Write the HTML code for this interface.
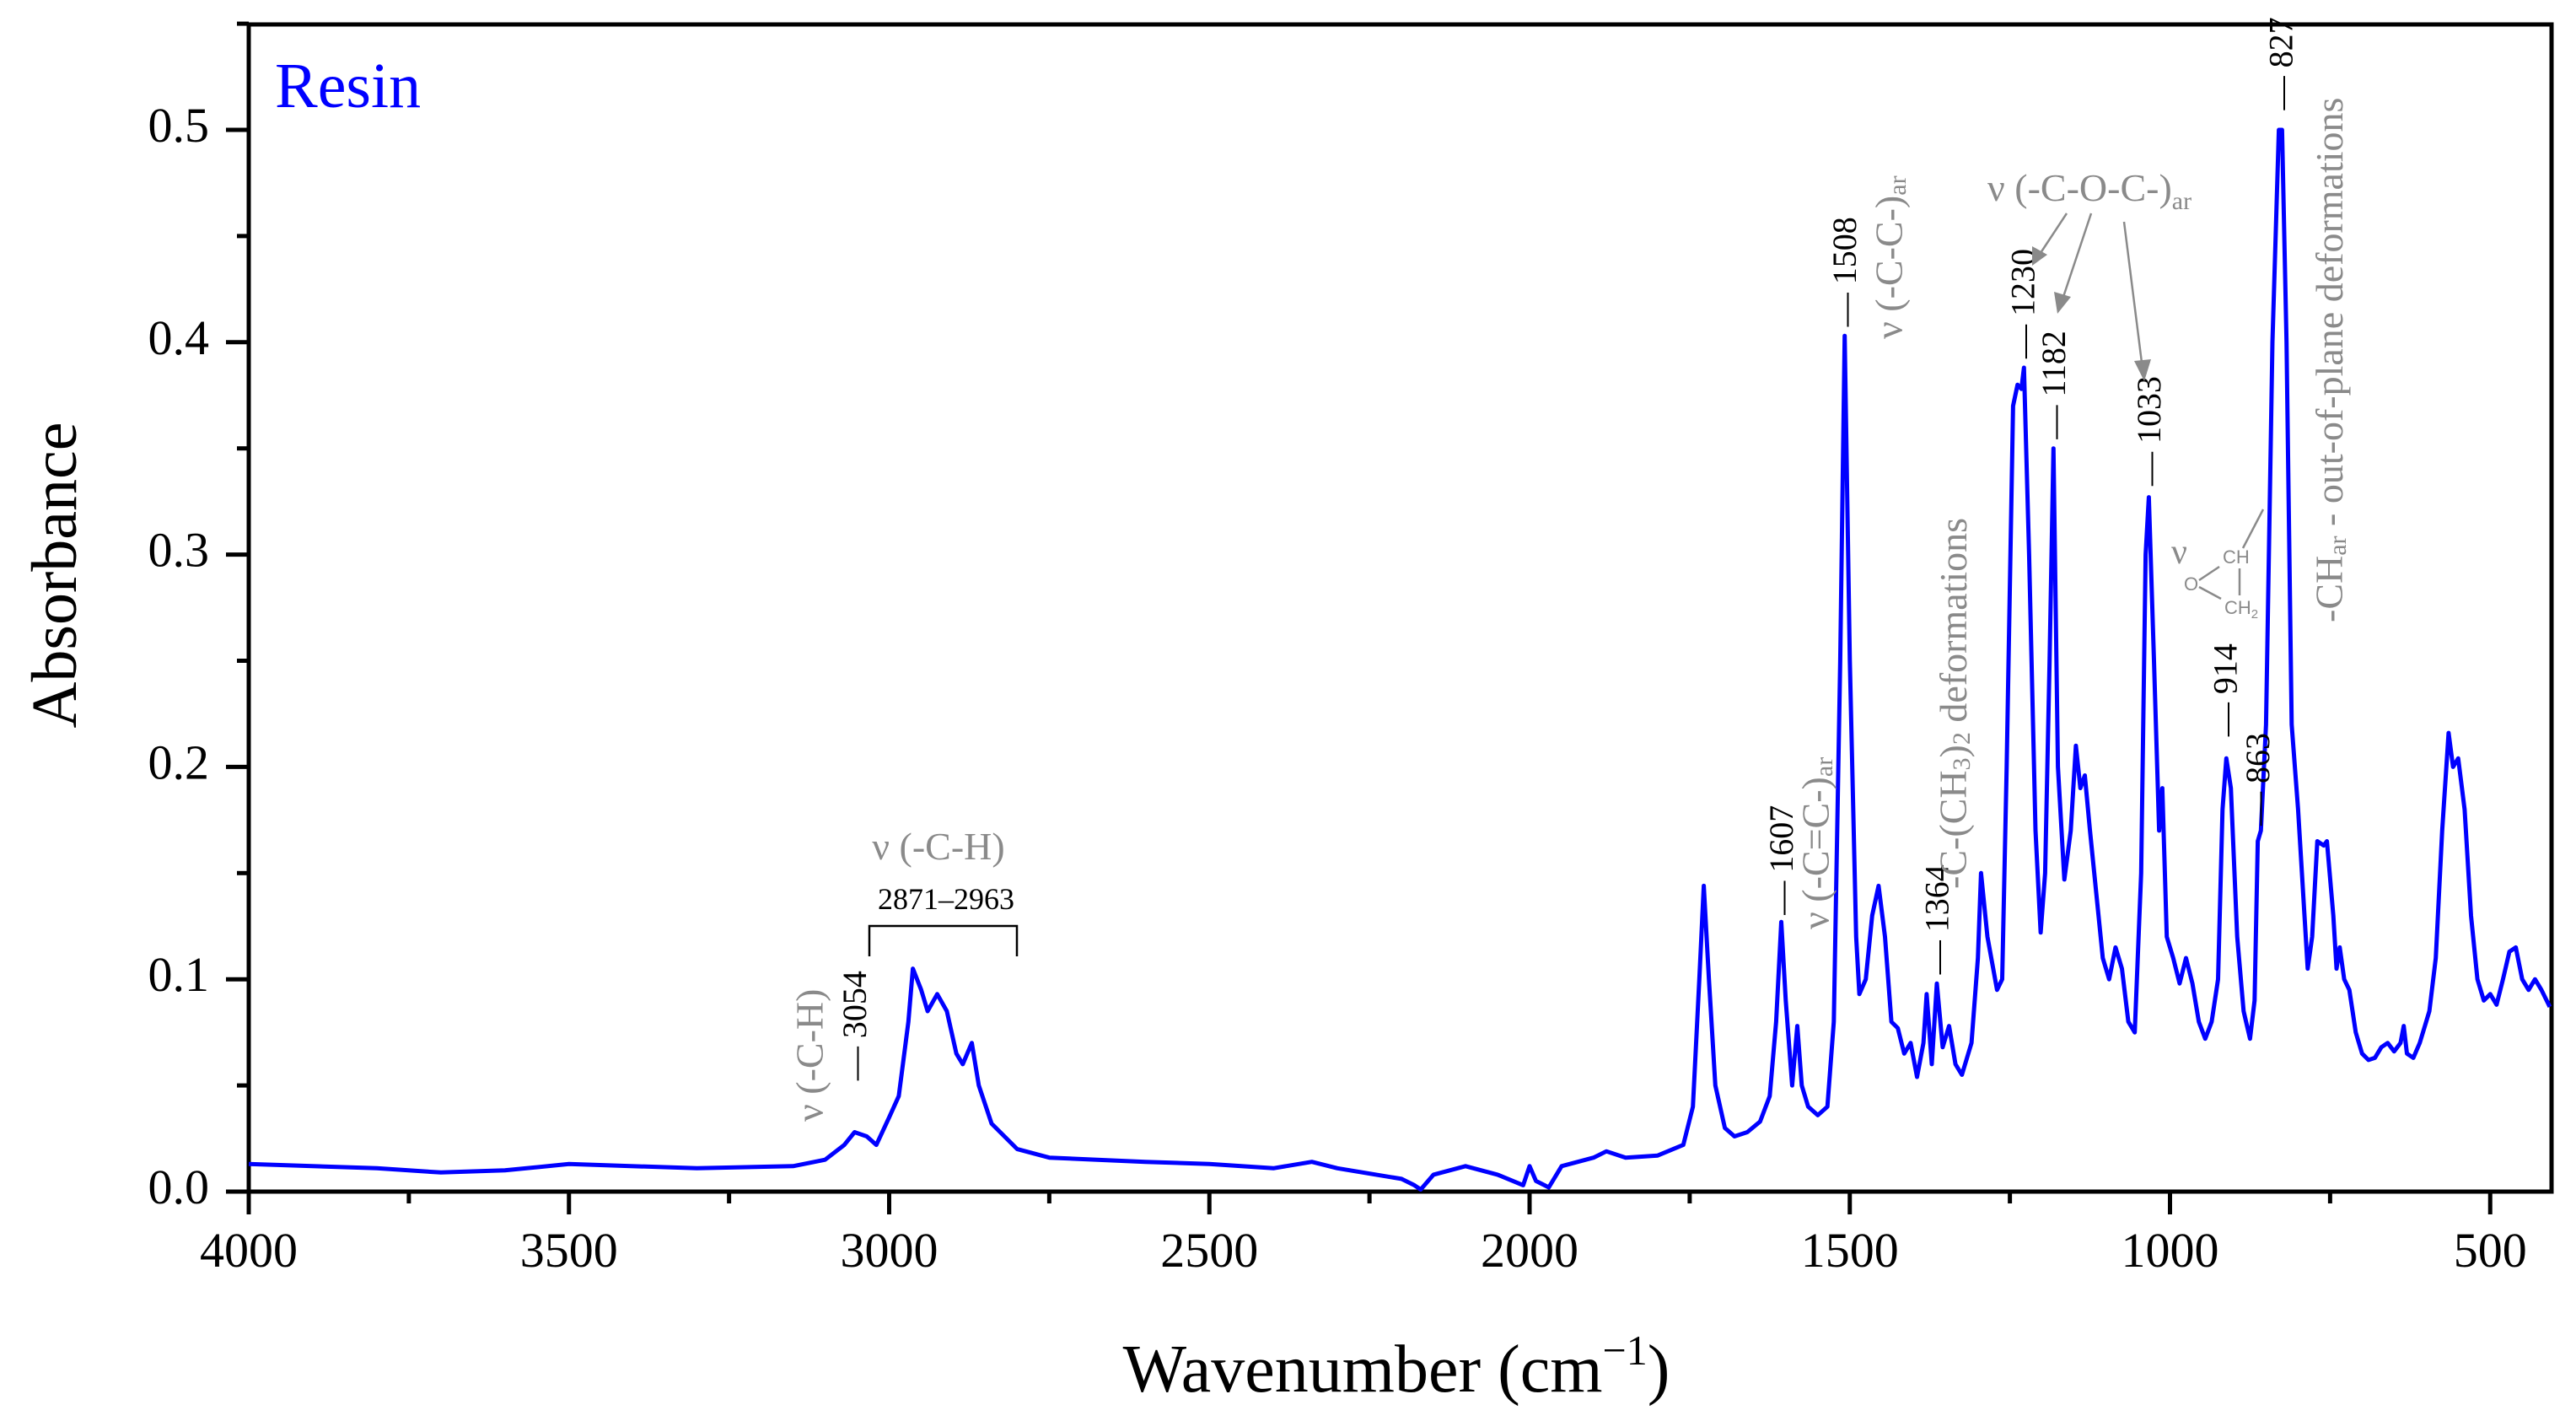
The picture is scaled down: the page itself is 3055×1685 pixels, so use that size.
<!DOCTYPE html>
<html><head><meta charset="utf-8">
<style>
html,body{margin:0;padding:0;background:#fff;}
svg{display:block;font-family:"Liberation Serif",serif;}
</style></head>
<body>
<svg id="chart" width="3055" height="1685" viewBox="0 0 3055 1685" xmlns="http://www.w3.org/2000/svg">
<g id="axes"></g>
<g id="series"></g>
<g id="annot"></g>
<text x="326" y="127" font-size="76" fill="#0000ff">Resin</text>
<text transform="translate(90,682) rotate(-90)" text-anchor="middle" font-size="76" fill="#000">Absorbance</text>
<text x="1656" y="1650" text-anchor="middle" font-size="80" fill="#000">Wavenumber (cm<tspan dy="-32" font-size="50">−1</tspan><tspan dy="32">)</tspan></text>
</svg>
<script>
const wavenumbers=[4000,3800,3700,3600,3500,3300,3150,3100,3070,3054,3035,3020,3000,2985,2970,2963,2950,2940,2925,2910,2895,2885,2871,2860,2840,2800,2750,2600,2500,2400,2340,2300,2200,2180,2170,2150,2100,2050,2010,2000,1990,1970,1950,1900,1880,1850,1800,1760,1745,1735,1728,1720,1710,1695,1680,1660,1640,1625,1615,1607,1600,1590,1582,1575,1565,1550,1535,1525,1515,1508,1500,1490,1485,1475,1465,1455,1445,1435,1425,1415,1405,1395,1385,1380,1372,1364,1355,1345,1335,1325,1310,1300,1295,1285,1270,1262,1255,1245,1238,1232,1228,1220,1210,1202,1195,1188,1182,1175,1165,1155,1147,1140,1133,1125,1115,1105,1095,1085,1075,1065,1055,1045,1038,1033,1025,1017,1012,1005,995,985,975,965,955,945,935,925,918,912,905,895,885,875,868,863,858,850,840,830,825,818,810,800,790,785,778,770,760,755,745,740,735,728,720,710,700,690,680,670,660,650,640,635,630,620,610,600,595,585,575,565,558,550,540,530,520,510,500,490,480,470,460,450,440,430,420,407];
const absorbance=[0.013,0.011,0.009,0.010,0.013,0.011,0.012,0.015,0.022,0.028,0.026,0.022,0.035,0.045,0.08,0.105,0.095,0.085,0.093,0.085,0.065,0.06,0.07,0.05,0.032,0.02,0.016,0.014,0.013,0.011,0.014,0.011,0.006,0.003,0.001,0.008,0.012,0.008,0.003,0.012,0.005,0.002,0.012,0.016,0.019,0.016,0.017,0.022,0.04,0.1,0.144,0.1,0.05,0.03,0.026,0.028,0.033,0.045,0.08,0.127,0.09,0.05,0.078,0.05,0.04,0.036,0.04,0.08,0.25,0.403,0.25,0.12,0.093,0.1,0.13,0.144,0.12,0.08,0.077,0.065,0.07,0.054,0.07,0.093,0.06,0.098,0.068,0.078,0.06,0.055,0.07,0.11,0.15,0.12,0.095,0.1,0.2,0.37,0.38,0.378,0.388,0.3,0.17,0.122,0.15,0.25,0.35,0.2,0.147,0.17,0.21,0.19,0.196,0.17,0.14,0.11,0.1,0.115,0.105,0.08,0.075,0.15,0.3,0.327,0.25,0.17,0.19,0.12,0.11,0.098,0.11,0.098,0.08,0.072,0.08,0.1,0.18,0.204,0.19,0.12,0.085,0.072,0.09,0.165,0.17,0.22,0.4,0.5,0.5,0.4,0.22,0.18,0.13,0.105,0.12,0.165,0.163,0.165,0.13,0.105,0.115,0.1,0.095,0.075,0.065,0.062,0.063,0.068,0.07,0.066,0.07,0.078,0.065,0.063,0.07,0.08,0.085,0.11,0.17,0.216,0.2,0.204,0.18,0.13,0.1,0.09,0.093,0.088,0.1,0.113,0.115,0.1,0.095,0.1,0.095,0.087];
const xTickValues=[4000,3500,3000,2500,2000,1500,1000,500];
const xTickLabels=["4000","3500","3000","2500","2000","1500","1000","500"];
const yTickValues=[0,0.1,0.2,0.3,0.4,0.5];
const yTickLabels=["0.0","0.1","0.2","0.3","0.4","0.5"];
const peakPositions=[3054,1607,1508,1364,1230,1182,1033,914,863,827];
const peakLabelLevels=[0.05,0.128,0.405,0.1,0.39,0.352,0.33,0.212,0.17,0.507];

const NS="http://www.w3.org/2000/svg";
const L=295,R=3026,T=29,B=1413;
function px(w){return L+(4000-w)*0.7595;}
function py(a){return B-a*2518;}
function mk(tag,attrs,parent){const e=document.createElementNS(NS,tag);for(const k in attrs)e.setAttribute(k,attrs[k]);parent.appendChild(e);return e;}
const axes=document.getElementById('axes'),series=document.getElementById('series'),annot=document.getElementById('annot');

const frame=mk('rect',{x:L,y:T,width:R-L,height:B-T,fill:'none',stroke:'#000','stroke-width':5},axes);


for(let w=4000;w>=500;w-=250){
  const major=(w%500===0);
  const t=mk('line',{x1:px(w),x2:px(w),y1:B,y2:B+(major?27:14),stroke:'#000','stroke-width':5},axes);
  
  
}
xTickValues.forEach((v,i)=>{
  const t=mk('text',{x:px(v),y:1502,'text-anchor':'middle','font-size':58,fill:'#000'},axes);
  t.textContent=xTickLabels[i];
  
  
});
for(let k=0;k<=11;k++){
  const a=k*0.05,major=(k%2===0);
  const t=mk('line',{x1:L,x2:L-(major?27:14),y1:py(a),y2:py(a),stroke:'#000','stroke-width':5},axes);
  
  
}
yTickValues.forEach((v,i)=>{
  const t=mk('text',{x:248,y:py(v)+14,'text-anchor':'end','font-size':58,fill:'#000'},axes);
  t.textContent=yTickLabels[i];
  
  
});

let d='';
wavenumbers.forEach((w,i)=>{d+=(i?'L':'M')+px(w).toFixed(1)+','+py(absorbance[i]).toFixed(1);});
const line=mk('path',{d:d,fill:'none',stroke:'#0000ff','stroke-width':5,'stroke-linejoin':'round'},series);



peakPositions.forEach((w,i)=>{
  const t=mk('text',{transform:`translate(${px(w)},${py(peakLabelLevels[i])-6}) rotate(-90)`,'dominant-baseline':'central','font-size':40,fill:'#000'},annot);
  t.textContent='— '+w;
  
  
});
</script>
<svg width="3055" height="1685" viewBox="0 0 3055 1685" style="position:absolute;left:0;top:0;font-family:'Liberation Serif',serif" xmlns="http://www.w3.org/2000/svg">
<g fill="#8a8a8a" font-size="46">
<text transform="translate(960,1330) rotate(-90)" dominant-baseline="central">ν (-C-H)</text>
<text x="1113" y="1019" text-anchor="middle">ν (-C-H)</text>
<text transform="translate(2153,1102) rotate(-90)" dominant-baseline="central">ν (-C=C-)<tspan dy="10" font-size="30">ar</tspan></text>
<text transform="translate(2240,402) rotate(-90)" dominant-baseline="central">ν (-C-C-)<tspan dy="10" font-size="30">ar</tspan></text>
<text transform="translate(2316,1054) rotate(-90)" dominant-baseline="central">-C-(CH<tspan dy="10" font-size="30">3</tspan><tspan dy="-10">)</tspan><tspan dy="10" font-size="30">2</tspan><tspan dy="-10"> deformations</tspan></text>
<text x="2357" y="238">ν (-C-O-C-)<tspan dy="10" font-size="30">ar</tspan></text>
<text transform="translate(2762,738) rotate(-90)" dominant-baseline="central">-CH<tspan dy="10" font-size="30">ar</tspan><tspan dy="-10"> - out-of-plane deformations</tspan></text>
<text x="2575" y="668" font-size="42">ν</text>
<g font-family="'Liberation Sans',sans-serif" font-size="22">
<text x="2636" y="668">CH</text>
<text x="2590" y="700">O</text>
<text x="2638" y="728">CH<tspan dy="5" font-size="15">2</tspan></text>
</g>
</g>
<g stroke="#8a8a8a" stroke-width="2.5" fill="none">
<line x1="2608" y1="688" x2="2632" y2="672"/>
<line x1="2608" y1="696" x2="2634" y2="710"/>
<line x1="2656" y1="674" x2="2656" y2="706"/>
<line x1="2660" y1="650" x2="2684" y2="604"/>
<line x1="2451" y1="253" x2="2418" y2="303"/>
<line x1="2480" y1="253" x2="2446" y2="355"/>
<line x1="2519" y1="263" x2="2540" y2="430"/>
</g>
<g fill="#8a8a8a">
<polygon points="2410,315 2410,292 2428,302"/>
<polygon points="2440,372 2436,346 2456,352"/>
<polygon points="2543,452 2531,428 2551,426"/>
</g>
<text x="1122" y="1078" text-anchor="middle" font-size="36" fill="#000">2871–2963</text>
<polyline points="1031,1134 1031,1098 1206,1098 1206,1134" fill="none" stroke="#000" stroke-width="2.5"/>
</svg>
</body></html>
